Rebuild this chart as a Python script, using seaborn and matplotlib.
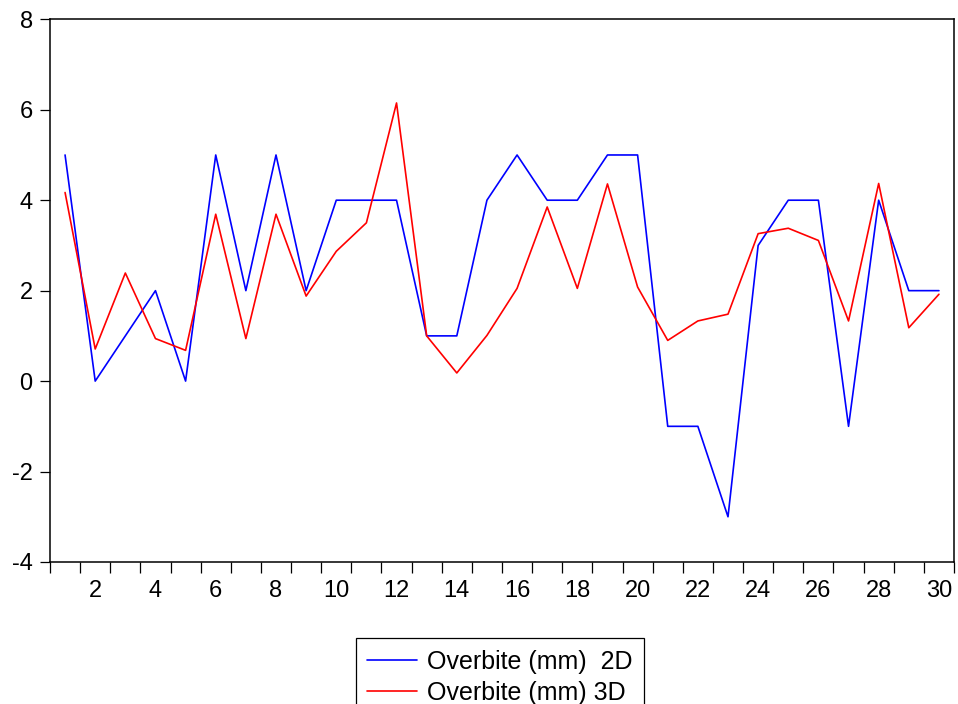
import matplotlib
matplotlib.use("Agg")
import matplotlib.pyplot as plt
from matplotlib.ticker import FixedLocator
import numpy as np
import pandas as pd
import seaborn as sns

# Observation index
obs = list(range(1, 31))

# Overbite measurements (mm)
overbite_2d = [5, 0, 1, 2, 0, 5, 2, 5, 2, 4,
               4, 4, 1, 1, 4, 5, 4, 4, 5, 5,
               -1, -1, -3, 3, 4, 4, -1, 4, 2, 2]
overbite_3d = [4.17, 0.71, 2.39, 0.94, 0.68, 3.69, 0.94, 3.69, 1.88, 2.87,
               3.50, 6.15, 1.00, 0.18, 1.01, 2.05, 3.85, 2.05, 4.36, 2.08,
               0.90, 1.33, 1.48, 3.26, 3.38, 3.11, 1.33, 4.37, 1.18, 1.92]

series_names = ["Overbite (mm)  2D", "Overbite (mm) 3D"]
series_colors = ["#0000ff", "#ff0000"]

y_ticks = [-4, -2, 0, 2, 4, 6, 8]
x_labels = list(range(2, 31, 2))

df = pd.DataFrame({
    "obs": obs * 2,
    "value": overbite_2d + overbite_3d,
    "series": [series_names[0]] * len(obs) + [series_names[1]] * len(obs),
})

sns.set_style("ticks")
plt.rcParams["font.family"] = ["Liberation Sans", "DejaVu Sans"]
plt.rcParams["font.size"] = 17
plt.rcParams["text.color"] = "black"

fig = plt.figure(figsize=(9.58, 7.04), dpi=100)
ax = fig.add_axes([50 / 958, 1 - 562 / 704, 904 / 958, (562 - 19.3) / 704])

sns.lineplot(data=df, x="obs", y="value", hue="series",
             palette=series_colors, hue_order=series_names,
             linewidth=1.2, ax=ax, legend=False, estimator=None)

ax.set_xlim(0.5, 30.5)
ax.set_ylim(-4, 8)
ax.set_xlabel("")
ax.set_ylabel("")

# Labels at even observations, tick marks on the boundaries between observations
ax.xaxis.set_major_locator(FixedLocator(x_labels))
ax.set_xticklabels([str(v) for v in x_labels])
ax.xaxis.set_minor_locator(FixedLocator(np.arange(0.5, 31, 1.0)))
ax.tick_params(axis="x", which="major", length=0, pad=13, labelsize=17, colors="black")
ax.tick_params(axis="x", which="minor", length=8, width=0.9, direction="out", color="black")

ax.set_yticks(y_ticks)
ax.set_yticklabels([str(v) for v in y_ticks])
ax.tick_params(axis="y", which="major", length=7.5, width=0.9, pad=5, labelsize=17,
               direction="out", colors="black")
ax.tick_params(top=False, right=False)

for side in ["left", "right", "top", "bottom"]:
    ax.spines[side].set_visible(True)
    ax.spines[side].set_color("black")
    ax.spines[side].set_linewidth(1.1)

handles = [plt.Line2D([], [], color=c, linewidth=1.2) for c in series_colors]
leg = fig.legend(handles, series_names, loc="upper left",
                 bbox_to_anchor=(355.7 / 958, 1 - 638.3 / 704),
                 frameon=True, fancybox=False, shadow=False,
                 fontsize=18, handlelength=2.0, handletextpad=0.4,
                 borderpad=0.45, labelspacing=0.3, borderaxespad=0)
leg.get_frame().set_edgecolor("black")
leg.get_frame().set_linewidth(0.9)
leg.get_frame().set_alpha(1)
for t in leg.get_texts():
    t.set_color("black")

fig.savefig("out.png", dpi=100)
